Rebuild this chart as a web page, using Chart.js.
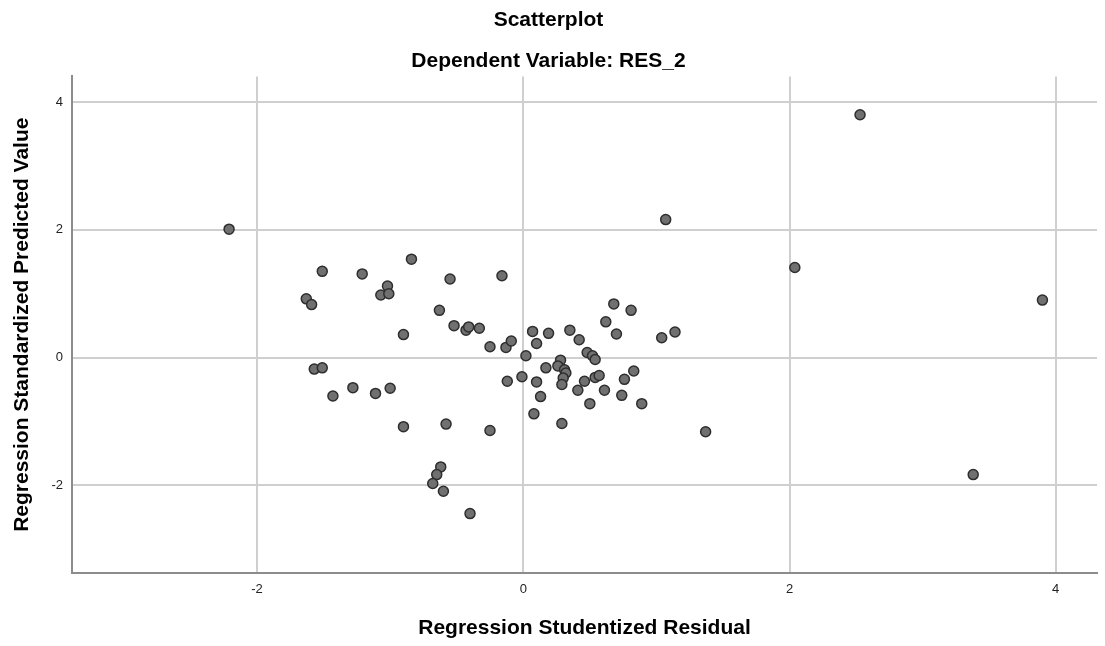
<!DOCTYPE html>
<html>
<head>
<meta charset="utf-8">
<title>Scatterplot</title>
<script src="https://cdn.jsdelivr.net/npm/chart.js@4.4.1/dist/chart.umd.min.js"></script>
<style>
  body { margin: 0; background: #fff; }
  #wrap { width: 1105px; height: 646px; }
</style>
</head>
<body>
<div id="wrap"><canvas id="scatterChart" width="1105" height="646"></canvas></div>
<script>
// Regression Studentized Residual (x) vs Regression Standardized Predicted Value (y)
let residuals = [
    -2.21, -1.51, -1.21, -0.84, -0.55, -0.16, -1.63, -1.59, -1.02, -1.07,
    -1.01, -0.63, -0.90, -0.52, -0.43, -0.41, -0.33, -0.25, -0.13, -0.09,
     0.02,  0.07,  0.10,  0.19, -1.57, -1.51,  0.35,  0.42,  0.62,  0.68,
     0.81,  0.70,  1.04,  1.14,  0.48,  0.52,  0.54,  0.28,  0.26,  0.17,
     0.31,  0.32,  0.30,  0.29, -0.01, -0.12,  0.10,  0.13,  0.08,  0.29,
     0.41,  0.46,  0.54,  0.57,  0.61,  0.50,  0.76,  0.83,  0.74,  0.89,
    -0.25, -1.43, -1.28, -1.11, -1.00, -0.90, -0.58, -0.62, -0.65, -0.68,
    -0.60, -0.40,  2.53,  1.07,  2.04,  3.90,  3.38,  1.37
];
let predicted = [
     2.01,  1.35,  1.31,  1.54,  1.23,  1.28,  0.92,  0.83,  1.12,  0.98,
     1.00,  0.74,  0.36,  0.50,  0.43,  0.48,  0.46,  0.17,  0.16,  0.26,
     0.03,  0.41,  0.22,  0.38, -0.18, -0.16,  0.43,  0.28,  0.56,  0.84,
     0.74,  0.37,  0.31,  0.40,  0.08,  0.03, -0.03, -0.04, -0.13, -0.16,
    -0.19, -0.24, -0.32, -0.42, -0.30, -0.37, -0.38, -0.61, -0.88, -1.03,
    -0.51, -0.37, -0.31, -0.28, -0.51, -0.72, -0.34, -0.21, -0.59, -0.72,
    -1.14, -0.60, -0.47, -0.56, -0.48, -1.08, -1.04, -1.71, -1.83, -1.97,
    -2.09, -2.44,  3.80,  2.16,  1.41,  0.90, -1.83, -1.16
];
let xTicks = [-2, 0, 2, 4];
let yTicks = [-2, 0, 2, 4];

let points = residuals.map((r, i) => ({ x: r, y: predicted[i] }));

const fontFam = '"Liberation Sans", Arial, sans-serif';

let ctx = document.getElementById('scatterChart').getContext('2d');
let scatterChart = new Chart(ctx, {
    type: 'scatter',
    data: {
        datasets: [{
            data: points,
            backgroundColor: '#707070',
            borderColor: '#2e2e2e',
            borderWidth: 1.5,
            pointRadius: 5,
            pointHoverRadius: 5
        }]
    },
    options: {
        responsive: false,
        animation: false,
        devicePixelRatio: 1,
        layout: { padding: { top: 0, left: 0, right: 8, bottom: 0 } },
        plugins: {
            legend: { display: false },
            tooltip: { enabled: false },
            title: {
                display: true,
                text: 'Scatterplot',
                color: '#000',
                font: { family: fontFam, size: 21, weight: 'bold' },
                padding: { top: 8, bottom: 0 }
            },
            subtitle: {
                display: true,
                text: 'Dependent Variable: RES_2',
                color: '#000',
                font: { family: fontFam, size: 21, weight: 'bold' },
                padding: { top: 15, bottom: 3 }
            }
        },
        scales: {
            x: {
                type: 'linear',
                min: -3.39,
                max: 4.31,
                afterFit: function (s) { s.height = 73; },
                afterBuildTicks: function (s) { s.ticks = xTicks.map(v => ({ value: v })); },
                ticks: {
                    color: '#222',
                    padding: 9,
                    font: { family: fontFam, size: 13 }
                },
                grid: { color: '#cfcfcf', lineWidth: 2, drawTicks: false },
                border: { display: true, color: '#8c8c8c', width: 2 },
                title: {
                    display: true,
                    text: 'Regression Studentized Residual',
                    color: '#000',
                    font: { family: fontFam, size: 21, weight: 'bold' },
                    padding: { top: 0, bottom: 5 }
                }
            },
            y: {
                type: 'linear',
                min: -3.37,
                max: 4.40,
                afterFit: function (s) { s.width = 72; },
                afterBuildTicks: function (s) { s.ticks = yTicks.map(v => ({ value: v })); },
                ticks: {
                    color: '#222',
                    padding: 9,
                    font: { family: fontFam, size: 13 }
                },
                grid: { color: '#cfcfcf', lineWidth: 2, drawTicks: false },
                border: { display: true, color: '#8c8c8c', width: 2 },
                title: {
                    display: true,
                    text: 'Regression Standardized Predicted Value',
                    color: '#000',
                    font: { family: fontFam, size: 21, weight: 'bold' },
                    padding: { top: 10, bottom: 0 }
                }
            }
        }
    }
});
</script>
</body>
</html>
